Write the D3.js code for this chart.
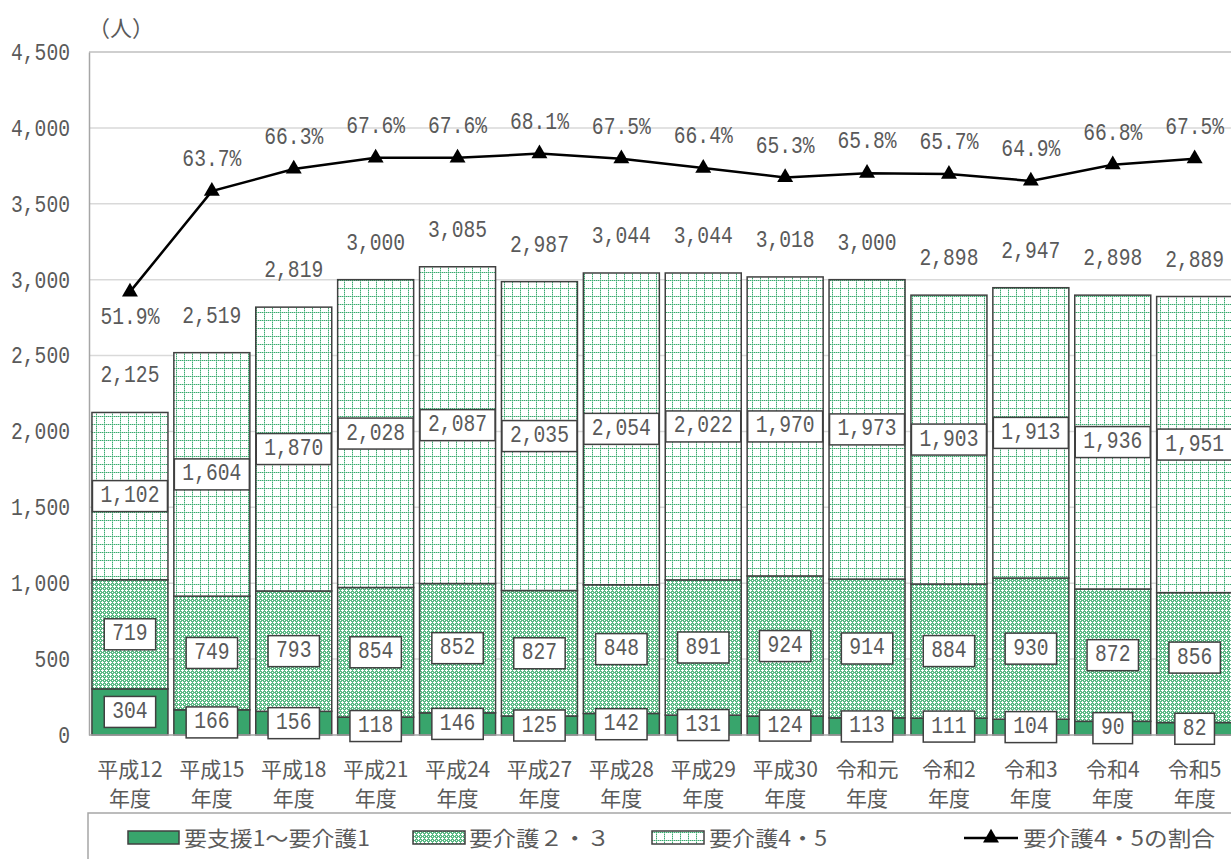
<!DOCTYPE html>
<html><head><meta charset="utf-8">
<script src="https://cdn.jsdelivr.net/npm/d3@7"></script>
<style>body{margin:0;background:#fff}</style>
</head><body>
<svg id="c" width="1231" height="859"></svg>
<script>
const categories = ["平成12","平成15","平成18","平成21","平成24","平成27","平成28","平成29","平成30","令和元","令和2","令和3","令和4","令和5"];
const subLabel = "年度";
const shien1 = [304,166,156,118,146,125,142,131,124,113,111,104,90,82];
const kaigo23 = [719,749,793,854,852,827,848,891,924,914,884,930,872,856];
const kaigo45 = [1102,1604,1870,2028,2087,2035,2054,2022,1970,1973,1903,1913,1936,1951];
const totals = [2125,2519,2819,3000,3085,2987,3044,3044,3018,3000,2898,2947,2898,2889];
const ratio45 = [51.9,63.7,66.3,67.6,67.6,68.1,67.5,66.4,65.3,65.8,65.7,64.9,66.8,67.5];
const yTicks = [0,500,1000,1500,2000,2500,3000,3500,4000,4500];
const seriesNames = ["要支援1～要介護1","要介護２・３","要介護4・5","要介護4・5の割合"];

const svg = d3.select("#c");
const numFont = "'Liberation Mono', 'DejaVu Sans Mono', monospace";
const jpFont = "'Noto Sans CJK JP', 'Noto Sans', sans-serif";
const textCol = "#5a5a5a";
const green = "#38a56c";
const border = "#404040";
const charW = 11.8, numSize = 23;

svg.append("rect").attr("width",1231).attr("height",859).attr("fill","#fff");

function numText(sel){
  sel.attr("font-family",numFont).attr("font-size",numSize).attr("fill",textCol)
    .attr("lengthAdjust","spacingAndGlyphs")
    .attr("textLength",function(){ return this.textContent.length*charW; });
}

const defs = svg.append("defs");
const p2 = defs.append("pattern").attr("id","pat23").attr("patternUnits","userSpaceOnUse").attr("width",4).attr("height",4);
p2.append("rect").attr("width",4).attr("height",4).attr("fill","#5bb985");
p2.append("rect").attr("x",1).attr("y",2).attr("width",3).attr("height",1).attr("fill","#ffffff");
p2.append("rect").attr("x",2).attr("y",1).attr("width",1).attr("height",3).attr("fill","#ffffff");
p2.append("rect").attr("x",0).attr("y",0).attr("width",1).attr("height",1).attr("fill","#ffffff");
const p3 = defs.append("pattern").attr("id","pat45").attr("patternUnits","userSpaceOnUse").attr("width",8).attr("height",8);
p3.append("rect").attr("width",8).attr("height",8).attr("fill","#ffffff");
for (let i=0;i<8;i+=2){
  p3.append("rect").attr("x",i).attr("y",0).attr("width",1).attr("height",1).attr("fill","#3aa86f");
  p3.append("rect").attr("x",0).attr("y",i).attr("width",1).attr("height",1).attr("fill","#3aa86f");
  p3.append("rect").attr("x",i+1).attr("y",0).attr("width",1).attr("height",1).attr("fill","#a8dcc0");
  p3.append("rect").attr("x",0).attr("y",i+1).attr("width",1).attr("height",1).attr("fill","#a8dcc0");
}

const left = 89, step = 81.9;
const x = d3.scaleBand().domain(categories).range([left, left + step*categories.length]).paddingInner(0.072).paddingOuter(0.036);
const y = d3.scaleLinear().domain([0,4500]).range([735,52]);
const yp = d3.scaleLinear().domain([0,80]).range([735,52]);
const right = left + step*categories.length;

svg.append("g").selectAll("line").data(yTicks.filter(d=>d>0)).join("line")
  .attr("x1",left).attr("x2",right).attr("y1",d=>y(d)).attr("y2",d=>y(d))
  .attr("stroke",d=>d===4500?"#bfbfbf":"#d9d9d9").attr("stroke-width",1.5);

const yAxis = svg.append("g").attr("transform",`translate(${left},0)`)
  .call(d3.axisLeft(y).tickValues(yTicks).tickFormat(d3.format(",")).tickSize(0).tickPadding(19));
yAxis.select(".domain").attr("stroke","#a6a6a6").attr("stroke-width",1.5);
yAxis.selectAll("text").call(numText);

svg.append("text").attr("x",88).attr("y",36).attr("font-family",jpFont).attr("font-size",22).attr("fill",textCol).text("（人）");

const stacks = categories.map((c,i)=>{
  const a = shien1[i], b = kaigo23[i], t = kaigo45[i];
  return [
    {c, y0:0, y1:a, v:a, fill:green},
    {c, y0:a, y1:a+b, v:b, fill:"url(#pat23)"},
    {c, y0:a+b, y1:a+b+t, v:t, fill:"url(#pat45)"}
  ];
}).flat();

svg.append("g").selectAll("rect").data(stacks).join("rect")
  .attr("x",d=>x(d.c)).attr("width",x.bandwidth())
  .attr("y",d=>y(d.y1)).attr("height",d=>y(d.y0)-y(d.y1))
  .attr("fill",d=>d.fill).attr("stroke",border).attr("stroke-width",1.5);

svg.append("line").attr("x1",left).attr("x2",right).attr("y1",735).attr("y2",735).attr("stroke","#a6a6a6").attr("stroke-width",1.5);

const lg = svg.append("g");
stacks.forEach(d=>{
  const cx = x(d.c)+x.bandwidth()/2;
  const cy = (y(d.y0)+y(d.y1))/2;
  const str = d3.format(",")(d.v);
  const w = str.length*charW;
  const g = lg.append("g");
  g.append("rect").attr("x",cx-w/2-8).attr("y",cy-15.5).attr("width",w+16).attr("height",31)
    .attr("fill","#fff").attr("stroke",border).attr("stroke-width",1.5);
  g.append("text").attr("x",cx).attr("y",cy).attr("text-anchor","middle").attr("dominant-baseline","central")
    .text(str).call(numText);
});

svg.append("g").selectAll("text").data(categories).join("text")
  .attr("x",d=>x(d)+x.bandwidth()/2).attr("y",(d,i)=>y(totals[i])-36)
  .attr("text-anchor","middle").attr("dominant-baseline","central")
  .text((d,i)=>d3.format(",")(totals[i])).call(numText);

const line = d3.line().x((d,i)=>x(categories[i])+x.bandwidth()/2).y(d=>yp(d));
svg.append("path").datum(ratio45).attr("d",line).attr("fill","none").attr("stroke","#000").attr("stroke-width",2.5);
const tri = d3.symbol().type(d3.symbolTriangle).size(110);
svg.append("g").selectAll("path").data(ratio45).join("path")
  .attr("transform",(d,i)=>`translate(${x(categories[i])+x.bandwidth()/2},${yp(d)})`)
  .attr("d",tri).attr("fill","#000");
svg.append("g").selectAll("text").data(ratio45).join("text")
  .attr("x",(d,i)=>x(categories[i])+x.bandwidth()/2).attr("y",(d,i)=>i===0?yp(d)+26:yp(d)-31)
  .attr("text-anchor","middle").attr("dominant-baseline","central")
  .text(d=>d.toFixed(1)+"%").call(numText);

const xl = svg.append("g");
categories.forEach(c=>{
  const cx = x(c)+x.bandwidth()/2;
  xl.append("text").attr("x",cx).attr("y",777).attr("text-anchor","middle").attr("font-family",jpFont).attr("font-size",21).attr("fill",textCol).text(c);
  xl.append("text").attr("x",cx).attr("y",806).attr("text-anchor","middle").attr("font-family",jpFont).attr("font-size",21).attr("fill",textCol).text(subLabel);
});

svg.append("path").attr("d","M88,862 V813 H1235").attr("fill","none").attr("stroke","#a6a6a6").attr("stroke-width",1.5);
const legItems = [
  {x:128, w:51, fill:green, tx:184, tw:186},
  {x:413, w:52, fill:"url(#pat23)", tx:469, tw:141},
  {x:652, w:52, fill:"url(#pat45)", tx:709, tw:118}
];
legItems.forEach((d,i)=>{
  svg.append("rect").attr("x",d.x).attr("y",831).attr("width",d.w).attr("height",13).attr("fill",d.fill).attr("stroke",border).attr("stroke-width",1.5);
  svg.append("text").attr("x",d.tx).attr("y",846).attr("font-family",jpFont).attr("font-size",21).attr("fill",textCol)
    .attr("textLength",d.tw).attr("lengthAdjust","spacingAndGlyphs").text(seriesNames[i]);
});
svg.append("line").attr("x1",964).attr("x2",1018).attr("y1",838).attr("y2",838).attr("stroke","#000").attr("stroke-width",2.5);
svg.append("path").attr("transform","translate(991,838)").attr("d",tri).attr("fill","#000");
svg.append("text").attr("x",1023).attr("y",846).attr("font-family",jpFont).attr("font-size",21).attr("fill",textCol)
  .attr("textLength",192).attr("lengthAdjust","spacingAndGlyphs").text(seriesNames[3]);
</script>
</body></html>
